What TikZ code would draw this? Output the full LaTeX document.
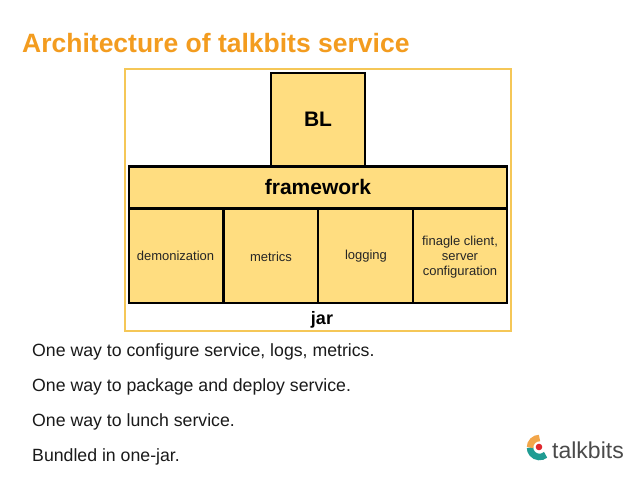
\documentclass[tikz,border=0pt]{standalone}
\usepackage{fontspec}
\setmainfont{Liberation Sans}
\definecolor{boxfill}{HTML}{FFDD80}
\definecolor{framec}{HTML}{F5C757}
\definecolor{titlec}{HTML}{F39C1F}
\definecolor{bodyc}{HTML}{1A1A1A}
\definecolor{tealc}{HTML}{1F9C93}
\definecolor{orangec}{HTML}{F2A64A}
\definecolor{redc}{HTML}{E0282E}
\definecolor{logoc}{HTML}{4A4A4A}
\tikzset{
  x=1pt,y=-1pt,
  blk/.style={draw=black,line width=2.4pt,fill=boxfill,inner sep=0pt},
  smalltxt/.style={font=\fontsize{13}{15}\selectfont,text=black!85,align=center},
  bigtxt/.style={font=\fontsize{21}{24}\selectfont\bfseries,text=black},
  bodytxt/.style={font=\fontsize{17.7}{20}\selectfont,text=bodyc,anchor=west,inner sep=0pt},
  logoarc/.style={line width=6.5pt},
}
\begin{document}
\begin{tikzpicture}
\useasboundingbox[fill=white] (0,0) rectangle (638,479);
\node[anchor=west,inner sep=0pt,font=\fontsize{26.5}{30}\selectfont\bfseries,text=titlec] (title) at (22,43) {Architecture of talkbits service};
\draw[draw=framec,line width=2pt,fill=white] (124.5,69) rectangle (511,331);
\draw[blk] (271,73) rectangle (365,166);
\node[bigtxt] (bl) at (318,119) {BL};
\draw[blk] (129,166.5) rectangle (507,208.5);
\node[bigtxt] (fw) at (318,187) {framework};
\draw[blk] (129,208.5) rectangle (223.5,303);
\draw[blk] (223.5,208.5) rectangle (318,303);
\draw[blk] (318,208.5) rectangle (413,303);
\draw[blk] (413,208.5) rectangle (507,303);
\node[smalltxt] (d) at (175.5,255.5) {demonization};
\node[smalltxt] (m) at (271,256.5) {metrics};
\node[smalltxt] (l) at (366,256.5) {logging};
\node[smalltxt] (f) at (460,257) {finagle client,\\server\\configuration};
\node[font=\fontsize{18}{22}\selectfont\bfseries] (jar) at (322,320) {jar};
\node[bodytxt] (a) at (32,351.5) {One way to configure service, logs, metrics.};
\node[bodytxt] (b) at (32,386.5) {One way to package and deploy service.};
\node[bodytxt] (c) at (32,422) {One way to lunch service.};
\node[bodytxt] (e) at (32,457) {Bundled in one-jar.};
% logo
\draw[tealc,logoarc] (545.6,454.8) arc[start angle=-50,delta angle=-130,radius=9.5pt];
\draw[orangec,logoarc] (530,447.5) arc[start angle=180,delta angle=-90,radius=9.5pt];
\fill[redc] (539,447) circle[radius=3.3pt];
\node[anchor=west,inner sep=0pt,font=\fontsize{23}{27}\selectfont,text=logoc] (logo) at (552,450) {talkbits};
\end{tikzpicture}
\end{document}
